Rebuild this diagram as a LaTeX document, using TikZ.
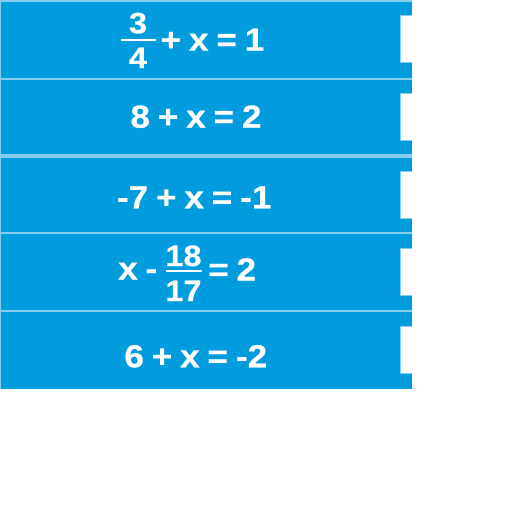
\documentclass[tikz,border=0pt]{standalone}
\usepackage{fontspec}
\setmainfont{Liberation Sans}[FakeStretch=1.1,WordSpace=0.8,BoldFeatures={FakeBold=0.4}]
\definecolor{rowblue}{HTML}{009CDE}
\definecolor{sepblue}{HTML}{86CDEE}
\begin{document}
\begin{tikzpicture}[x=1pt,y=-1pt,
  eq/.style={text=white,font=\bfseries\fontsize{32}{36}\selectfont,inner sep=0pt},
  fr/.style={text=white,font=\bfseries\fontsize{29.5}{32}\selectfont,inner sep=0pt},
  fracbar/.style={draw=white,line width=1.8pt},
  rowfill/.style={fill=rowblue},
  tabedge/.style={fill=sepblue},
  tabfill/.style={fill=white}]
\useasboundingbox (0,0) rectangle (512,512);
\fill[white] (0,0) rectangle (512,512);
% light base showing through as separators
\fill[sepblue] (0,0) rectangle (412,388.7);
% rows
\fill[rowfill] (1,1.5) rectangle (412,77.7);
\fill[rowfill] (1,80) rectangle (412,154);
\fill[rowfill] (1,158) rectangle (412,231.7);
\fill[rowfill] (1,234) rectangle (412,309.7);
\fill[rowfill] (1,312) rectangle (412,388.7);
% tabs on the right
\foreach \t in {15,92.7,171,248.3,326.3}{
  \fill[tabedge] (400.3,\t) rectangle (412,\t+48);
  \fill[tabfill] (401.3,\t+1) rectangle (413,\t+47);
}
% row 1
\node[fr,anchor=base] (n1) at (138,33.3) {3};
\node[fr,anchor=base] (d1) at (138,68) {4};
\coordinate (b1l) at (121,40);
\coordinate (b1r) at (155.7,40);
\draw[fracbar] (b1l) -- (b1r);
\node[eq,anchor=base west] (e1) at (160.4,50.7) {+ x = 1};
% row 2
\node[eq,anchor=base] (e2) at (196,127.7) {8 + x = 2};
% row 3
\node[eq,anchor=base] (e3) at (194.2,208.3) {-7 + x = -1};
% row 4
\node[eq,anchor=base west] (e4a) at (118,279.5) {x -};
\node[fr,anchor=base] (n4) at (183.5,266) {18};
\node[fr,anchor=base] (d4) at (183.5,301) {17};
\coordinate (b4l) at (166,271);
\coordinate (b4r) at (201.7,271);
\draw[fracbar] (b4l) -- (b4r);
\node[eq,anchor=base west] (e4b) at (208,280.5) {= 2};
% row 5
\node[eq,anchor=base] (e5) at (195.8,367.3) {6 + x = -2};
\end{tikzpicture}
\end{document}
